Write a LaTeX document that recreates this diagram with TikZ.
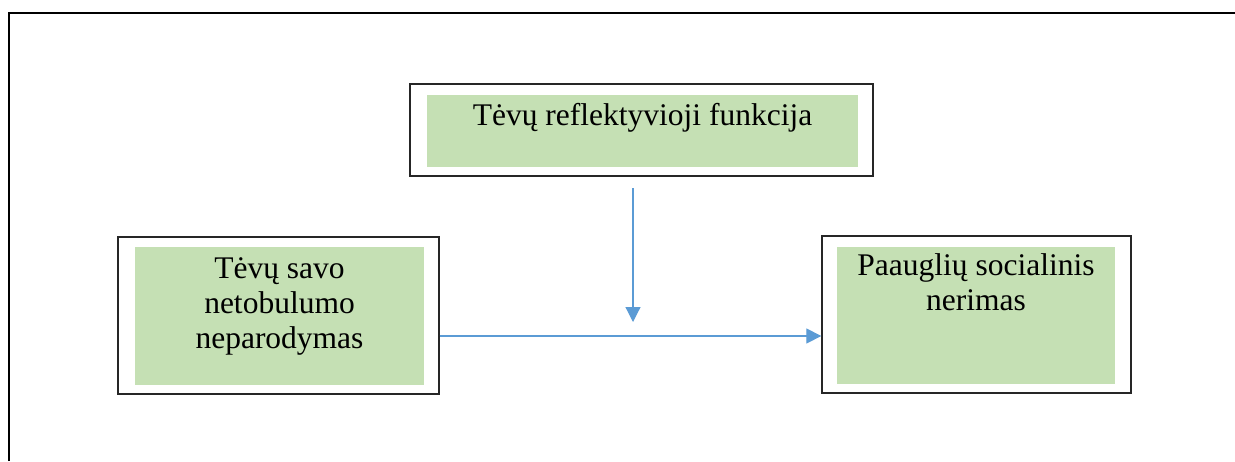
\documentclass[tikz,border=0pt]{standalone}
\usepackage{fontspec}
\setmainfont{Liberation Serif}
\usetikzlibrary{positioning,arrows.meta}
\definecolor{boxgreen}{HTML}{C5E0B4}
\definecolor{arrowblue}{HTML}{5B9BD5}

\begin{document}
\begin{tikzpicture}[
    x=1pt, y=-1pt,
    outerbox/.style={
        rectangle,
        draw=black!85,
        line width=1.3pt,
        fill=white,
        inner sep=0pt
    },
    greenbox/.style={
        rectangle,
        fill=boxgreen,
        inner sep=0pt
    },
    txt/.style={
        font=\fontsize{31.5}{35}\selectfont,
        align=center,
        inner sep=0pt,
        anchor=north
    },
    arrow/.style={-{Triangle[length=15pt,width=15pt]}, line width=1.2pt, arrowblue}
]

\useasboundingbox (0,0) rectangle (1235,461);
\draw[line width=2.2pt] (9,461) -- (9,13) -- (1235,13);

\node[outerbox, minimum width=463pt, minimum height=92pt] (refl) at (641.5,130) {};
\node[greenbox, minimum width=431pt, minimum height=72pt] (reflin) at (642.5,131) {};
\node[txt, below=8pt of reflin.north] (refltxt) {Tėvų reflektyvioji funkcija};

\node[outerbox, minimum width=321pt, minimum height=157pt] (netob) at (278.5,315.5) {};
\node[greenbox, minimum width=289pt, minimum height=138pt] (netobin) at (279.5,316) {};
\node[txt, below=11pt of netobin.north] (netobtxt) {Tėvų savo\\netobulumo\\neparodymas};

\node[outerbox, minimum width=309pt, minimum height=157pt] (nerim) at (976.5,314.5) {};
\node[greenbox, minimum width=278pt, minimum height=137pt] (nerimin) at (976,315.5) {};
\node[txt, below=7pt of nerimin.north] (nerimtxt) {Paauglių socialinis\\nerimas};

\coordinate (modstart) at (633,188);
\coordinate (modend) at (633,322);
\coordinate (mid) at (633,336);

\draw[arrow] (modstart) -- (modend);
\draw[arrow] (netob.east |- mid) -- (nerim.west |- mid);

\end{tikzpicture}
\end{document}
